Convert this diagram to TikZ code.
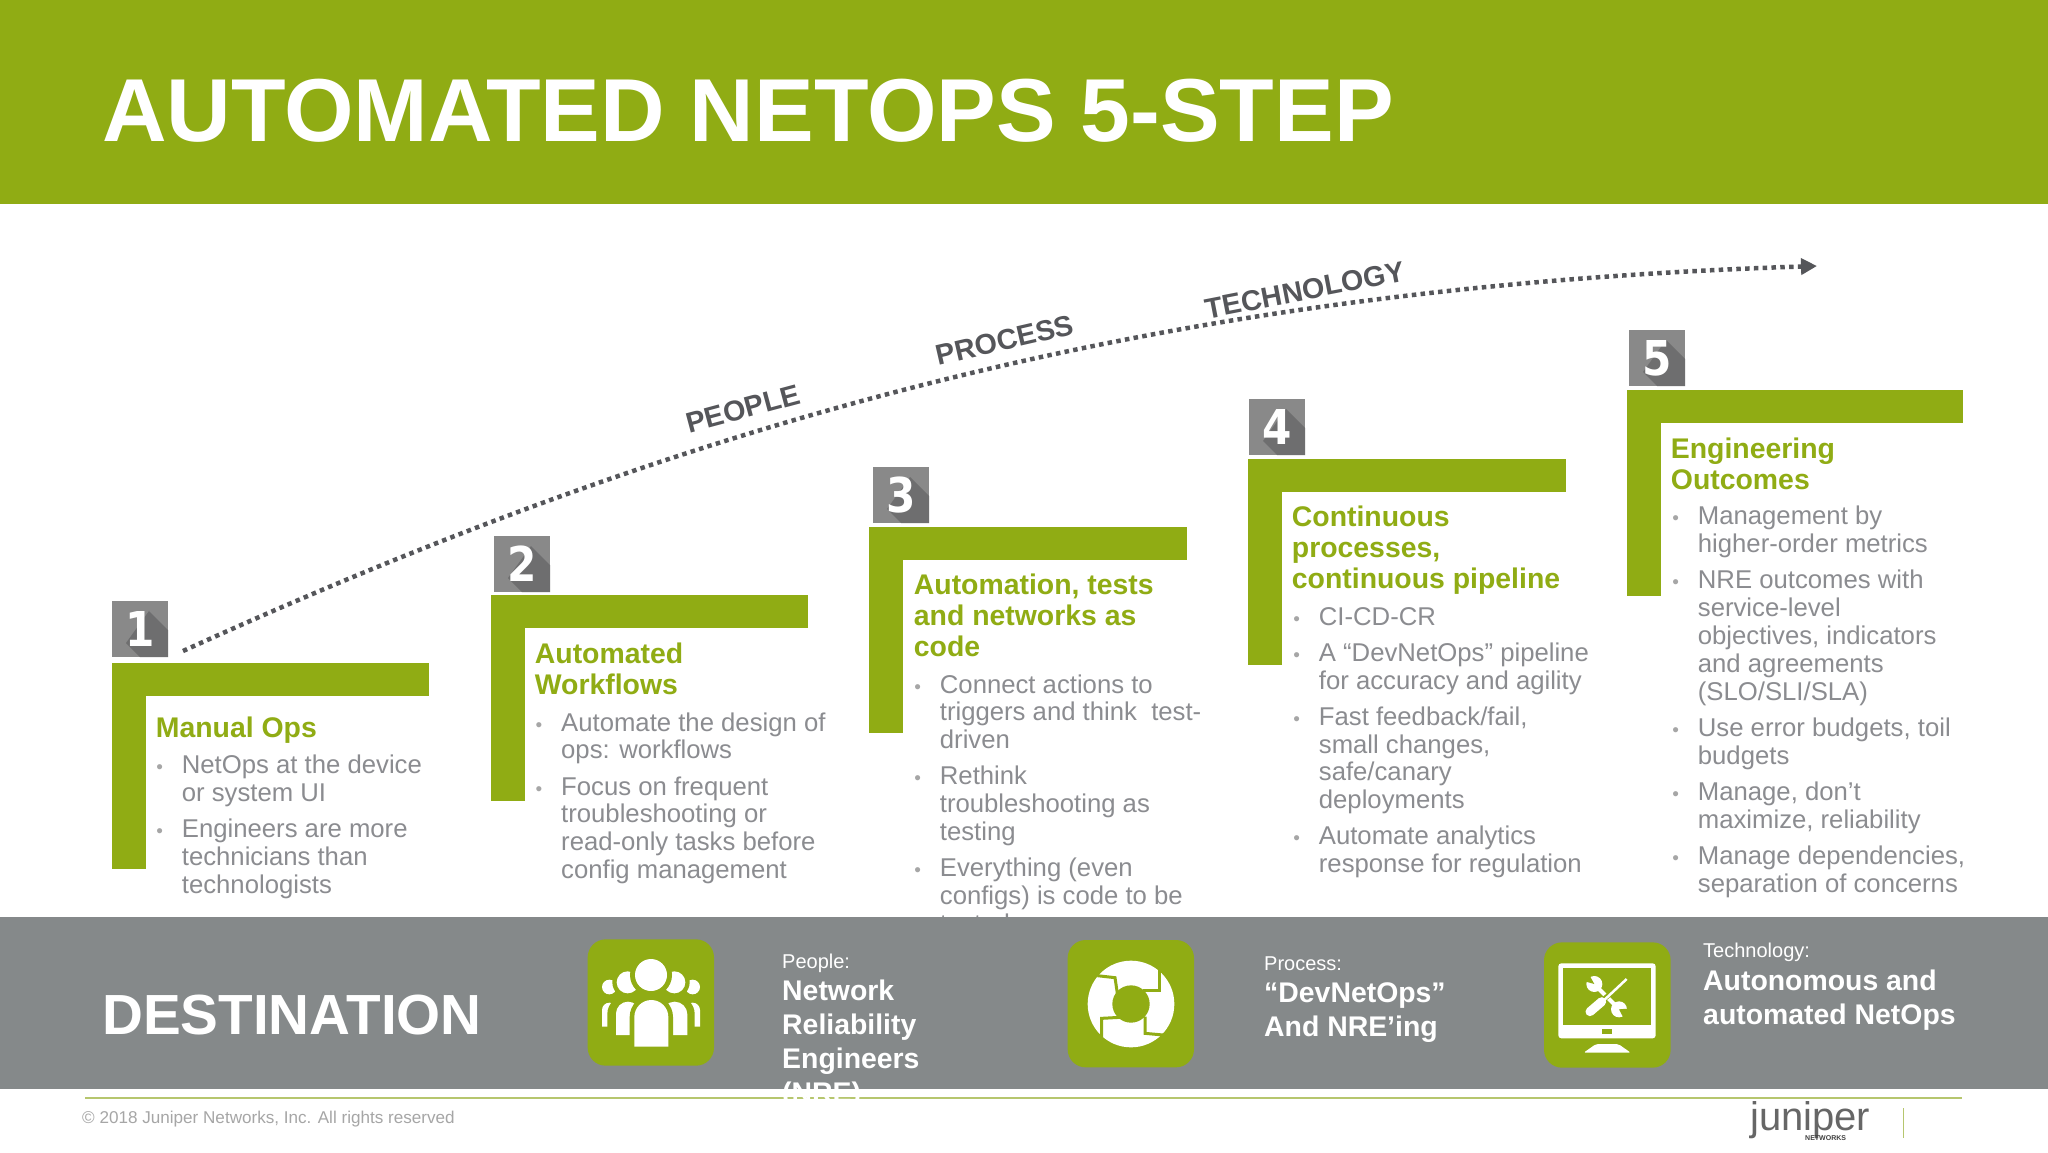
\documentclass[tikz,border=0pt]{standalone}
\usepackage{fontspec}
\setmainfont{Liberation Sans}
\newfontfamily\numfont{DejaVu Sans}
\usetikzlibrary{arrows.meta}
\definecolor{stairgreen}{HTML}{90AC14}
\definecolor{linegreen}{HTML}{B6C66E}
\definecolor{bandgrey}{HTML}{85898A}
\definecolor{bodygrey}{HTML}{8B8C90}
\definecolor{boxgrey}{HTML}{898989}
\definecolor{boxshadow}{HTML}{6E6E6F}
\definecolor{curvegrey}{HTML}{55565A}
\tikzset{
	headtext/.style={anchor=base west,align=left,inner sep=0,text=stairgreen,font=\fontsize{28.4}{31}\selectfont\bfseries},
	bodytext/.style={anchor=base west,align=left,inner sep=0,text=bodygrey,font=\fontsize{25.7}{27.8}\selectfont},
	numtext/.style={inner sep=0,xscale=.88,text=white,font=\fontsize{48}{48}\selectfont\numfont\bfseries},
	curvetext/.style={inner sep=0,text=curvegrey,font=\fontsize{28.7}{30}\selectfont\bfseries},
	destsmall/.style={anchor=base west,inner sep=0,text=white,font=\fontsize{20}{20}\selectfont},
	destbig/.style={anchor=base west,align=left,inner sep=0,text=white,font=\fontsize{28.4}{34}\selectfont\bfseries}
}
\def\bul{\llap{\textcolor{black!35}{\fontsize{19}{19}\selectfont •}\hspace{19pt}}}
\def\stair(#1,#2)(#3:#4){\fill[stairgreen] (#1,#2) rectangle ++(#3,33); \fill[stairgreen] (#1,#2) rectangle ++(34,#4);}
\def\numbox(#1,#2)(#3)(#4){\begin{scope}[shift={(#1,#2)}]
	\fill[boxgrey] (0,0) rectangle (56,56);
	\fill[boxshadow] (37,10) -- (56,29) -- (56,56) -- (28,56) -- (14,42) -- cycle;
	\node[numtext] (#3) at (28,28) {#4};
	\end{scope}}
\def\dome[#1](#2:#3:#4:#5){\fill[#1] (#2,#5) -- (#2,{#4+(#3-#2)/2}) arc (180:360:{(#3-#2)/2}) -- (#3,#5) -- cycle;}
\begin{document}
\begin{tikzpicture}[x=1pt,y=-1pt]
	\useasboundingbox (0,0) rectangle (2048,1152);
	\fill[white] (0,0) rectangle (2048,1152);
	\fill[stairgreen] (0,0) rectangle (2048,204);
	\node[anchor=base west,inner sep=0,text=white,font=\fontsize{89.4}{90}\selectfont\bfseries] (title) at (102,141) {AUTOMATED NETOPS 5-STEP};
	
	\stair(112,663)(317:206)
	\stair(490.5,595)(317:206)
	\stair(869,527)(318:206)
	\stair(1248,459)(318:206)
	\stair(1627,390)(336:206)
	
	\numbox(112,601)(num1)(1)
	\numbox(494,536)(num2)(2)
	\numbox(873,467)(num3)(3)
	\numbox(1249,399)(num4)(4)
	\numbox(1629,330)(num5)(5)
	
	\coordinate (curvestart) at (183,651);
	\coordinate (curveend) at (1817,266);
	\draw[curvegrey,line width=4.5pt,dash pattern=on 4.5pt off 4.3pt,-{Triangle[length=16pt,width=16pt]}] (curvestart) .. controls (700,416) and (1170,287) .. (curveend);
	\node[curvetext,rotate=15] (people) at (743,409) {PEOPLE};
	\node[curvetext,rotate=13] (process) at (1005,340) {PROCESS};
	\node[curvetext,rotate=11] (technology) at (1305,290) {TECHNOLOGY};
	
	\node[headtext] (head1) at (155.7,737) {Manual Ops};
	\node[bodytext] (body1) at (181.7,893.5) {\bul NetOps at the device\\or system UI\\[8.4pt]\bul Engineers are more\\technicians than\\technologists};
	
	\node[headtext] (head2) at (534.7,694) {Automated\\Workflows};
	\node[bodytext] (body2) at (561,878.5) {\bul Automate the design of\\ops: workflows\\[8.4pt]\bul Focus on frequent\\troubleshooting or\\read-only tasks before\\config management};
	
	\node[headtext] (head3) at (913.7,656) {Automation, tests\\and networks as\\code};
	\node[bodytext] (body3) at (939.7,932.2) {\bul Connect actions to\\triggers and think\ \ test-\\driven\\[8.4pt]\bul Rethink\\troubleshooting as\\testing\\[8.4pt]\bul Everything (even\\configs) is code to be\\tested};
	
	\node[headtext] (head4) at (1291.7,588) {Continuous\\processes,\\continuous pipeline};
	\node[bodytext] (body4) at (1318.7,872.6) {\bul CI-CD-CR\\[8.4pt]\bul A “DevNetOps” pipeline\\for accuracy and agility\\[8.4pt]\bul Fast feedback/fail,\\small changes,\\safe/canary\\deployments\\[8.4pt]\bul Automate analytics\\response for regulation};
	
	\node[headtext] (head5) at (1670.7,489) {Engineering\\Outcomes};
	\node[bodytext] (body5) at (1697.7,892) {\bul Management by\\higher-order metrics\\[8.4pt]\bul NRE outcomes with\\service-level\\objectives, indicators\\and agreements\\(SLO/SLI/SLA)\\[8.4pt]\bul Use error budgets, toil\\budgets\\[8.4pt]\bul Manage, don’t\\maximize, reliability\\[8.4pt]\bul Manage dependencies,\\separation of concerns};
	
	\fill[bandgrey] (0,917) rectangle (2048,1089);
	\draw[linegreen,line width=2.5pt] (85,1098) -- (1962,1098);
	\node[anchor=base west,inner sep=0,text=white,font=\fontsize{56.6}{58}\selectfont\bfseries] (destination) at (102,1034) {DESTINATION};
	
	\begin{scope}[shift={(580,930)},scale=1/3]
		\fill[stairgreen,rounded corners=18pt] (23,28) rectangle (402,407);
		\fill[white] (88,171) circle (22);
		\fill[white] (338,171) circle (22);
		\fill[stairgreen] (143,157) circle (46);
		\fill[stairgreen] (283,157) circle (46);
		\fill[white] (143,157) circle (33);
		\fill[white] (283,157) circle (33);
		\fill[stairgreen] (213,135) circle (63);
		\fill[white] (213,135) circle (48);
		\dome[white](66:110:218:290)
		\dome[white](316:360:218:290)
		\dome[stairgreen](82:185:200:330)
		\dome[stairgreen](241:344:200:330)
		\dome[white](108:180:215:315)
		\dome[white](246:322:215:315)
		\dome[stairgreen](149:279:196:365)
		\dome[white](163:265:210:350)
	\end{scope}
	\node[destsmall] (peoplesmall) at (782,968) {People:};
	\node[destbig] (peoplebig) at (782,1102) {Network\\Reliability\\Engineers\\(NRE)};
	
	\begin{scope}[shift={(1060,930)},scale=1/3]
		\fill[stairgreen,rounded corners=18pt] (23,30) rectangle (402,412);
		\fill[white] (213,222) circle (130);
		\fill[stairgreen] (213,222) circle (56);
		\draw[stairgreen,line width=3pt] (112,137) -- (165,143) -- (172,190);
		\draw[stairgreen,line width=3pt] (297,120) -- (297,180) -- (250,180);
		\draw[stairgreen,line width=3pt] (310,315) -- (255,310) -- (255,260);
		\draw[stairgreen,line width=3pt] (125,325) -- (125,265) -- (180,262);
	\end{scope}
	\node[destsmall] (processsmall) at (1264,970) {Process:};
	\node[destbig] (processbig) at (1264,1036) {“DevNetOps”\\And NRE’ing};
	
	\begin{scope}[shift={(1535,930)},scale=1/3]
		\fill[stairgreen,rounded corners=18pt] (27,37) rectangle (407,413);
		\fill[white,rounded corners=3pt] (70,100) rectangle (362,325);
		\fill[stairgreen] (85,115) rectangle (347,285);
		\fill[stairgreen] (200,298) rectangle (232,311);
		\fill[white,rounded corners=2pt] (183,342) -- (250,342) -- (287,368) -- (146,368) -- cycle;
		\draw[white,line width=4pt] (180,165) -- (255,240);
		\fill[white] (178,162) circle (24);
		\fill[white] (252,238) circle (24);
		\fill[stairgreen] (178,162) -- (160,130) -- (135,150) -- cycle;
		\fill[stairgreen] (252,238) -- (290,235) -- (270,272) -- cycle;
		\draw[stairgreen,line width=5pt] (275,147) -- (165,245);
		\draw[white,line width=2.5pt] (275,147) -- (195,222);
		\draw[white,line width=9pt,line cap=round] (200,215) -- (165,245);
	\end{scope}
	\node[destsmall] (techsmall) at (1703,957) {Technology:};
	\node[destbig] (techbig) at (1703,1024) {Autonomous and\\automated NetOps};
	
	\node[anchor=base west,inner sep=0,text=black!35,font=\fontsize{17.1}{18}\selectfont] (copyright) at (82,1123) {© 2018 Juniper Networks, Inc. All rights reserved};
	\node[anchor=base west,inner sep=0,text=black!60,font=\fontsize{40}{40}\selectfont] (logo) at (1750,1130) {juniper};
	\node[anchor=base west,inner sep=0,text=black!75,font=\fontsize{7}{7}\selectfont\bfseries] (logosub) at (1805,1140) {NETWORKS};
	\draw[linegreen,line width=1pt] (1903,1108) -- (1903,1138);
\end{tikzpicture}
\end{document}
